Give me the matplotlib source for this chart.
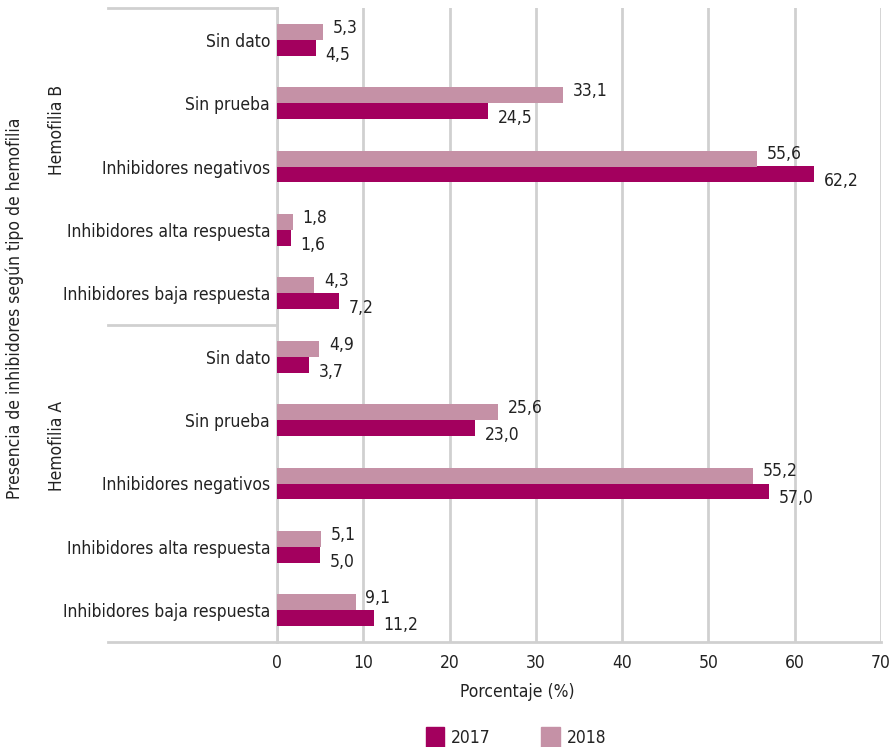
import numpy as np
import matplotlib.pyplot as plt
from matplotlib.patches import Patch
import matplotlib.transforms as mtransforms

plt.rcParams['font.family'] = ['DejaVu Sans']
plt.rcParams['font.stretch'] = 'condensed'

# categories bottom -> top
categories = ['Inhibidores baja respuesta', 'Inhibidores alta respuesta', 'Inhibidores negativos',
              'Sin prueba', 'Sin dato'] * 2
groups = ['Hemofilia A', 'Hemofilia B']
vals_2017 = [11.2, 5.0, 57.0, 23.0, 3.7, 7.2, 1.6, 62.2, 24.5, 4.5]
vals_2018 = [9.1, 5.1, 55.2, 25.6, 4.9, 4.3, 1.8, 55.6, 33.1, 5.3]
xticks = [0, 10, 20, 30, 40, 50, 60, 70]

c2017 = '#A3005E'
c2018 = '#C591A6'
grid_c = '#D0D0D0'
text_c = '#222222'
fs = 12.5

W, H = 890, 747
fig = plt.figure(figsize=(W / 100, H / 100), dpi=100)
ax = fig.add_axes([277 / W, 1 - 642 / H, (881 - 277) / W, (642 - 8) / H])

y = np.arange(len(categories))
h = 0.25
ax.barh(y - h / 2, vals_2017, height=h, color=c2017, zorder=3)
ax.barh(y + h / 2, vals_2018, height=h, color=c2018, zorder=3)

for yi, v in zip(y, vals_2018):
    ax.annotate(f'{v:.1f}'.replace('.', ','), (v, yi + h / 2), xytext=(7, 3),
                textcoords='offset points', va='center', ha='left', fontsize=fs, color=text_c)
for yi, v in zip(y, vals_2017):
    ax.annotate(f'{v:.1f}'.replace('.', ','), (v, yi - h / 2), xytext=(7, -5),
                textcoords='offset points', va='center', ha='left', fontsize=fs, color=text_c)

ax.set_xlim(0, 70)
ax.set_ylim(-0.5, len(categories) - 0.5)
ax.set_xticks(xticks)
ax.set_yticks(y)
ax.set_yticklabels(categories, fontsize=fs, color=text_c)
ax.tick_params(axis='both', length=0, labelsize=fs, colors=text_c)
ax.tick_params(axis='y', pad=5)
ax.tick_params(axis='x', pad=9)
ax.grid(axis='x', color=grid_c, linewidth=2, zorder=0)
for s in ['top', 'right']:
    ax.spines[s].set_visible(False)
for s in ['left', 'bottom']:
    ax.spines[s].set_color(grid_c)
    ax.spines[s].set_linewidth(2)

# group separators on the category axis
trans = mtransforms.blended_transform_factory(fig.transFigure, ax.transData)
for yy in [-0.5, 4.5, 9.5]:
    ax.plot([108 / W, 277 / W], [yy, yy], transform=trans, color=grid_c,
            linewidth=2, clip_on=False)

fig.text(57 / W, 1 - 446 / H, groups[0], rotation=90, ha='center', va='center',
         fontsize=fs, color=text_c)
fig.text(57 / W, 1 - 130 / H, groups[1], rotation=90, ha='center', va='center',
         fontsize=fs, color=text_c)
fig.text(15 / W, 1 - 308 / H, 'Presencia de inhibidores según tipo de hemofilia', rotation=90,
         ha='center', va='center', fontsize=fs, color=text_c)
fig.text(517 / W, 1 - 692 / H, 'Porcentaje (%)', ha='center', va='center',
         fontsize=fs, color=text_c)

handles = [Patch(color=c2017, label='2017'), Patch(color=c2018, label='2018')]
fig.legend(handles=handles, loc='center', bbox_to_anchor=(516 / W, 1 - 737 / H), ncol=2,
           frameon=False, fontsize=fs, handlelength=1.05, handleheight=1.35,
           columnspacing=2.9, handletextpad=0.4, labelcolor=text_c)

fig.savefig('out.png', dpi=100)
